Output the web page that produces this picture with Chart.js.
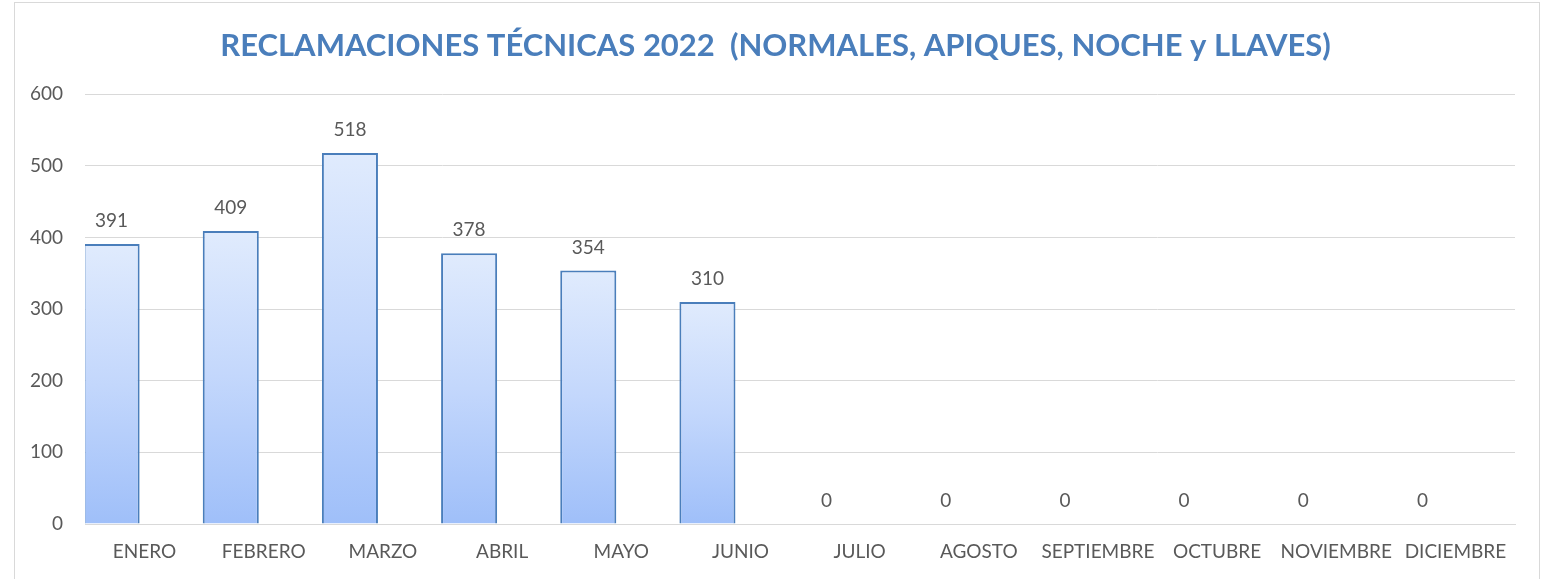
<!DOCTYPE html>
<html>
<head>
<meta charset="utf-8">
<script src="https://cdn.jsdelivr.net/npm/chart.js@4.4.1/dist/chart.umd.min.js"></script>
<style>
  html, body { margin: 0; padding: 0; background: #ffffff; }
  #frame { position: absolute; left: 14px; top: 2px; width: 1526px; height: 600px; border: 1px solid #d9d9d9; box-sizing: border-box; }
  #wrap { position: absolute; left: 0; top: 0; width: 1551px; height: 579px; }
  canvas { display: block; }
</style>
</head>
<body>
<div id="frame"></div>
<div id="wrap"><canvas id="c" width="1551" height="579"></canvas></div>
<script>
const categories = ['ENERO', 'FEBRERO', 'MARZO', 'ABRIL', 'MAYO', 'JUNIO', 'JULIO', 'AGOSTO', 'SEPTIEMBRE', 'OCTUBRE', 'NOVIEMBRE', 'DICIEMBRE'];
const reclamaciones = [391, 409, 518, 378, 354, 310, 0, 0, 0, 0, 0, 0];
const segundaSerie = [null, null, null, null, null, null, null, null, null, null, null, null];
const yTicks = [0, 100, 200, 300, 400, 500, 600];
const titleText = 'RECLAMACIONES TÉCNICAS 2022  (NORMALES, APIQUES, NOCHE y LLAVES)';

const FONT = 'Lato, "Open Sans", sans-serif';
const GRAY = '#595959';

function barGradient(c) {
  const chart = c.chart;
  const area = chart.chartArea;
  if (!area) return '#c5d8fb';
  const y = chart.scales.y;
  const v = c.raw;
  if (v === null || v === undefined) return '#c5d8fb';
  const top = y.getPixelForValue(v);
  const base = y.getPixelForValue(0);
  if (Math.abs(base - top) < 1) return '#c5d8fb';
  const g = chart.ctx.createLinearGradient(0, top, 0, base);
  g.addColorStop(0, '#e0ebfd');
  g.addColorStop(0.5, '#c3d7fc');
  g.addColorStop(1, '#9fbff9');
  return g;
}

const valueLabels = {
  id: 'valueLabels',
  afterDatasetsDraw(chart) {
    const ctx = chart.ctx;
    const meta = chart.getDatasetMeta(0);
    ctx.save();
    ctx.font = '19px ' + FONT;
    ctx.fillStyle = GRAY;
    ctx.textAlign = 'center';
    ctx.textBaseline = 'middle';
    meta.data.forEach((bar, i) => {
      const v = chart.data.datasets[0].data[i];
      ctx.fillText(String(v), bar.x, bar.y - 23);
    });
    ctx.restore();
  }
};

new Chart(document.getElementById('c'), {
  type: 'bar',
  data: {
    labels: categories,
    datasets: [
      {
        label: 'Reclamaciones',
        data: reclamaciones,
        backgroundColor: barGradient,
        borderColor: '#4a7ebb',
        borderWidth: 2,
        borderSkipped: 'bottom',
        barPercentage: 0.85,
        categoryPercentage: 1.107
      },
      {
        label: 'Serie 2',
        data: segundaSerie,
        backgroundColor: '#c5d8fb',
        barPercentage: 0.85,
        categoryPercentage: 1.107
      }
    ]
  },
  options: {
    responsive: false,
    animation: false,
    devicePixelRatio: 1,
    layout: { padding: { left: 0, right: 0, top: 0, bottom: 0 } },
    plugins: {
      legend: { display: false },
      tooltip: { enabled: false },
      title: {
        display: true,
        text: titleText,
        color: '#4a7ebb',
        font: { family: FONT, size: 31, weight: 'bold', lineHeight: 1.2 },
        padding: { top: 27, bottom: 30 }
      }
    },
    scales: {
      x: {
        grid: { display: false, drawTicks: false },
        border: { display: true, color: '#d9d9d9', width: 1 },
        ticks: { color: GRAY, font: { family: FONT, size: 19 }, padding: 16, maxRotation: 0, autoSkip: false },
        afterFit(s) { s.height = 55; }
      },
      y: {
        min: 0,
        max: 600,
        afterBuildTicks(s) { s.ticks = yTicks.map(v => ({ value: v })); },
        grid: { color: '#d9d9d9', lineWidth: 1, drawTicks: false },
        border: { display: false },
        ticks: { color: GRAY, font: { family: FONT, size: 19 }, padding: 22 },
        afterFit(s) { s.width = 85; }
      },
      yRight: {
        position: 'right',
        min: 0,
        max: 600,
        grid: { display: false, drawTicks: false },
        border: { display: false },
        ticks: { display: false },
        afterFit(s) { s.width = 36; }
      }
    }
  },
  plugins: [valueLabels]
});
</script>
</body>
</html>
